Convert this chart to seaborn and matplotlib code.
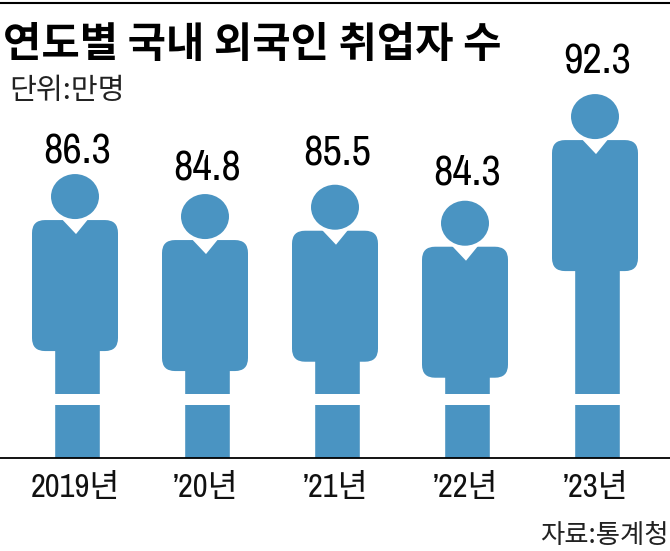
import matplotlib
matplotlib.use('Agg')
import matplotlib.pyplot as plt
import seaborn as sns
from matplotlib.patches import Ellipse, FancyBboxPatch, Polygon

years = ['2019년', '’20년', '’21년', '’22년', '’23년']
values = [86.3, 84.8, 85.5, 84.3, 92.3]
label_gap = [57, 61, 65, 62, 67]  # px between body top and label baseline

BLUE = '#4a94c2'
KOR = 'Noto Sans CJK KR'
NARROW = ['Archivo Narrow', 'Liberation Sans Narrow', KOR]

W, H = 670, 551
PX_X = 130.0      # pixels per category
PX_Y = 13.33      # pixels per unit
BASE_PX = 458     # baseline, from the top of the image
Y_MIN = 68.45

sns.set_theme(style='white')
plt.rcParams['font.family'] = [KOR, 'DejaVu Sans']

fig = plt.figure(figsize=(W / 100, H / 100), dpi=100)
ax = fig.add_axes([0, (H - BASE_PX) / H, 1, BASE_PX / H])

# legs are the actual bars
sns.barplot(x=years, y=values, color=BLUE, saturation=1, width=46 / PX_X, ax=ax, zorder=2)
for bar in ax.patches:
    bar.set_x(bar.get_x() + 2 / PX_X)

ax.set_xlim(-75 / PX_X, (W - 75) / PX_X)
ax.set_ylim(Y_MIN, Y_MIN + BASE_PX / PX_Y)

body_w = 86 / PX_X
body_h = 131 / PX_Y
for i, v in enumerate(values):
    body = FancyBboxPatch((i - body_w / 2, v - body_h), body_w, body_h,
                          boxstyle='round,pad=0,rounding_size=0.1',
                          mutation_aspect=PX_X / PX_Y, fc=BLUE, ec='none', zorder=3)
    ax.add_patch(body)
    # collar
    ax.add_patch(Polygon([(i - 13.5 / PX_X, v + 0.1), (i + 13.5 / PX_X, v + 0.1),
                          (i + 1 / PX_X, v - 14 / PX_Y)],
                         closed=True, fc='white', ec='none', zorder=4))
    # head
    ax.add_patch(Ellipse((i, v + 23.5 / PX_Y), 48 / PX_X, 45 / PX_Y, fc=BLUE, ec='none', zorder=5))
    ax.annotate(f'{v:.1f}', (i, v), xytext=(1.5, label_gap[i] * 0.72), textcoords='offset points',
                ha='center', va='baseline', fontsize=30.5, fontweight='medium', family=NARROW,
                color='black', zorder=6)

# white break across the legs
ax.axhspan(Y_MIN + (BASE_PX - 405) / PX_Y, Y_MIN + (BASE_PX - 394) / PX_Y, color='white', lw=0, zorder=4)

for s in ['top', 'left', 'right']:
    ax.spines[s].set_visible(False)
ax.spines['bottom'].set_color('black')
ax.spines['bottom'].set_linewidth(1.3)
ax.set_yticks([])
ax.tick_params(axis='x', length=0, pad=11)
for lab in ax.get_xticklabels():
    lab.set_fontsize(23.5)
    lab.set_family(NARROW)
    lab.set_color('#111111')

fig.add_artist(plt.Line2D([0, 1], [1 - 2.5 / H, 1 - 2.5 / H], color='black', lw=1.5))
fig.text(3 / W, 1 - 57 / H, '연도별 국내 외국인 취업자 수', fontsize=30, fontweight='bold',
         color='black', ha='left', va='baseline')
fig.text(9 / W, 1 - 99 / H, '단위:만명', fontsize=21, color='#222222', ha='left', va='baseline')
fig.text(669 / W, 1 - 543 / H, '자료:통계청', fontsize=19, color='#222222', ha='right', va='baseline')

fig.savefig('out.png', dpi=100)
